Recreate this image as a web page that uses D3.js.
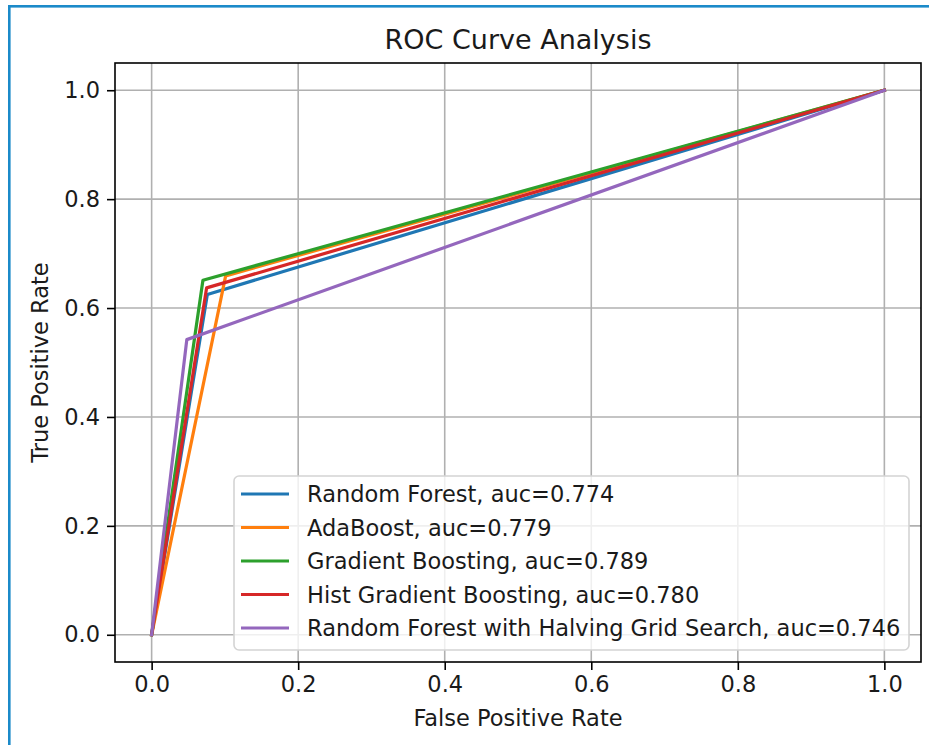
<!DOCTYPE html>
<html>
<head>
<meta charset="utf-8">
<script src="https://cdn.jsdelivr.net/npm/d3@7"></script>
<style>
  html, body { margin: 0; padding: 0; background: #fff; }
  svg { display: block; }
  text { font-family: "DejaVu Sans", sans-serif; fill: #1a1a1a; }
</style>
</head>
<body>
<svg id="chart" width="929" height="745"></svg>
<script>
// ---- data ----
const modelNames = [
  "Random Forest",
  "AdaBoost",
  "Gradient Boosting",
  "Hist Gradient Boosting",
  "Random Forest with Halving Grid Search"
];
const aucLabels = ["0.774", "0.779", "0.789", "0.780", "0.746"];
const colors = ["#1f77b4", "#ff7f0e", "#2ca02c", "#d62728", "#9467bd"];

const rfFpr   = [0, 0.076, 1];  const rfTpr   = [0, 0.625, 1];
const adaFpr  = [0, 0.101, 1];  const adaTpr  = [0, 0.659, 1];
const gbFpr   = [0, 0.070, 1];  const gbTpr   = [0, 0.651, 1];
const hgbFpr  = [0, 0.075, 1];  const hgbTpr  = [0, 0.637, 1];
const rfhFpr  = [0, 0.048, 1];  const rfhTpr  = [0, 0.542, 1];

const fprSeries = [rfFpr, adaFpr, gbFpr, hgbFpr, rfhFpr];
const tprSeries = [rfTpr, adaTpr, gbTpr, hgbTpr, rfhTpr];

const xTicks = [0, 0.2, 0.4, 0.6, 0.8, 1.0];
const yTicks = [0, 0.2, 0.4, 0.6, 0.8, 1.0];

const titleText = "ROC Curve Analysis";
const xLabelText = "False Positive Rate";
const yLabelText = "True Positive Rate";

// ---- layout ----
const svg = d3.select("#chart");
const L = 115, R = 921, T = 63, B = 662;
const FS = 22.5;
const x = d3.scaleLinear().domain([-0.05, 1.05]).range([L, R]);
const y = d3.scaleLinear().domain([-0.05, 1.05]).range([B, T]);

// screenshot frame
svg.append("rect").attr("x", 8).attr("y", 5).attr("width", 921).attr("height", 2.6).attr("fill", "#1b8ac9");
svg.append("rect").attr("x", 8).attr("y", 5).attr("width", 2.6).attr("height", 740).attr("fill", "#1b8ac9");

// grid
const grid = svg.append("g");
grid.selectAll("line.gx").data(xTicks).enter().append("line")
  .attr("x1", d => x(d)).attr("x2", d => x(d)).attr("y1", T).attr("y2", B)
  .attr("stroke", "#b0b0b0").attr("stroke-width", 1.6);
grid.selectAll("line.gy").data(yTicks).enter().append("line")
  .attr("y1", d => y(d)).attr("y2", d => y(d)).attr("x1", L).attr("x2", R)
  .attr("stroke", "#b0b0b0").attr("stroke-width", 1.6);

// curves
const line = d3.line().x(d => x(d[0])).y(d => y(d[1]));
fprSeries.forEach((fs, i) => {
  const pts = fs.map((f, j) => [f, tprSeries[i][j]]);
  svg.append("path").attr("d", line(pts))
    .attr("fill", "none").attr("stroke", colors[i]).attr("stroke-width", 3.2)
    .attr("stroke-linejoin", "round").attr("stroke-linecap", "square");
});

// axes
const xAxis = d3.axisBottom(x).tickValues(xTicks).tickFormat(d3.format(".1f")).tickSize(8).tickPadding(6);
const yAxis = d3.axisLeft(y).tickValues(yTicks).tickFormat(d3.format(".1f")).tickSize(8).tickPadding(7);
const gx = svg.append("g").attr("transform", `translate(0,${B})`).call(xAxis);
const gy = svg.append("g").attr("transform", `translate(${L},0)`).call(yAxis);
[gx, gy].forEach(g => {
  g.select(".domain").remove();
  g.selectAll(".tick line").attr("stroke", "#000").attr("stroke-width", 1.6);
  g.selectAll(".tick text").attr("font-size", FS).attr("font-family", "DejaVu Sans").attr("fill", "#1a1a1a");
});

// frame
svg.append("rect").attr("x", L).attr("y", T).attr("width", R - L).attr("height", B - T)
  .attr("fill", "none").attr("stroke", "#000").attr("stroke-width", 1.6);

// title & labels
svg.append("text").attr("x", (L + R) / 2).attr("y", 49).attr("text-anchor", "middle")
  .attr("font-size", 27).text(titleText);
svg.append("text").attr("x", (L + R) / 2).attr("y", 726).attr("text-anchor", "middle")
  .attr("font-size", FS).text(xLabelText);
svg.append("text").attr("transform", `translate(48,${(T + B) / 2}) rotate(-90)`).attr("text-anchor", "middle")
  .attr("font-size", FS).text(yLabelText);

// legend
const lg = svg.append("g");
lg.append("rect").attr("x", 234).attr("y", 476).attr("width", 675).attr("height", 174)
  .attr("rx", 5).attr("ry", 5)
  .attr("fill", "rgba(255,255,255,0.8)").attr("stroke", "#d4d4d4").attr("stroke-width", 1.6);
const rowY = i => 494 + i * 33.5;
modelNames.forEach((name, i) => {
  lg.append("line").attr("x1", 241).attr("x2", 289).attr("y1", rowY(i)).attr("y2", rowY(i))
    .attr("stroke", colors[i]).attr("stroke-width", 3.2);
  lg.append("text").attr("x", 307).attr("y", rowY(i)).attr("dy", "0.36em")
    .attr("font-size", FS).text(`${name}, auc=${aucLabels[i]}`);
});
</script>
</body>
</html>
